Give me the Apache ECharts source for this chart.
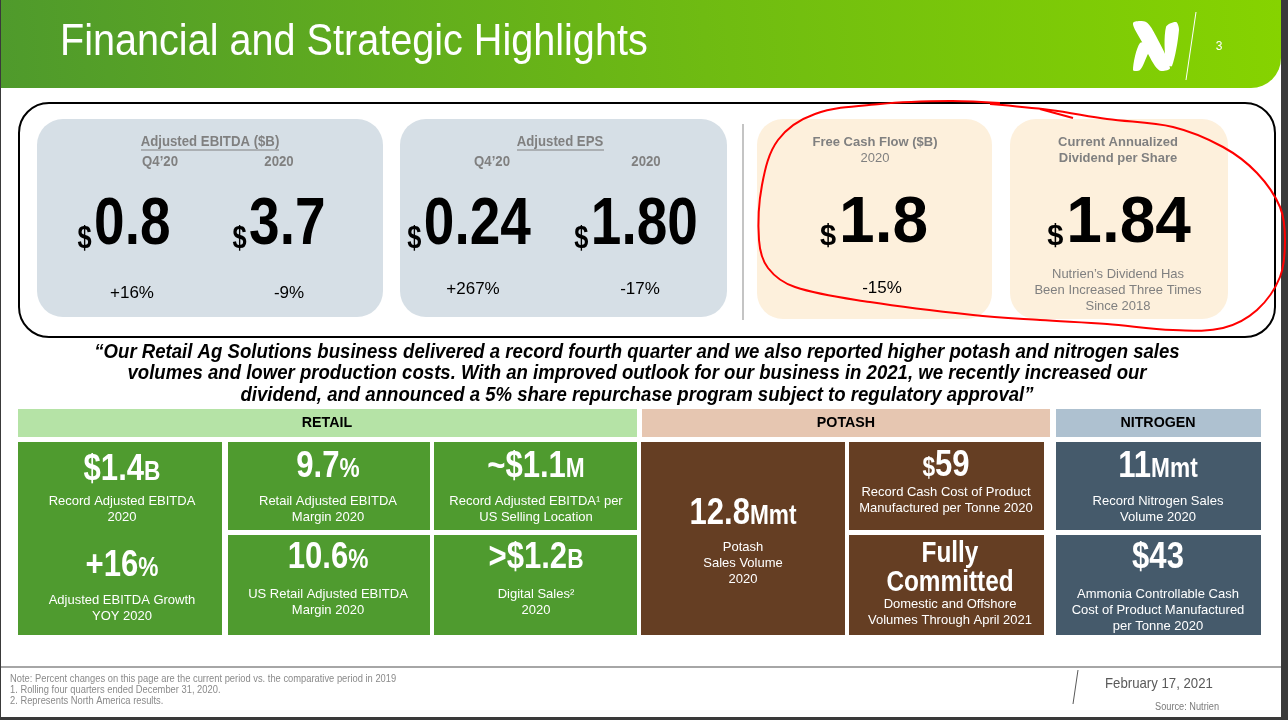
<!DOCTYPE html>
<html>
<head>
<meta charset="utf-8">
<script src="https://cdn.jsdelivr.net/npm/echarts@6/dist/echarts.min.js"></script>
<style>
    html, body { margin: 0; padding: 0; background: #3a3a3a; }
    #chart { width: 1288px; height: 720px; }
</style>
</head>
<body>
<div id="chart"></div>
<script>
// 页面上的数值
var pageTitle = 'Financial and Strategic Highlights';
var pageNumber = '3';
var ebitdaPeriods = ['Q4\u201920', '2020'];
var ebitdaValues = ['0.8', '3.7'];
var ebitdaChanges = ['+16%', '-9%'];
var epsPeriods = ['Q4\u201920', '2020'];
var epsValues = ['0.24', '1.80'];
var epsChanges = ['+267%', '-17%'];
var fcfValue = '1.8';
var fcfChange = '-15%';
var dividendValue = '1.84';
var dividendNote = ['Nutrien\u2019s Dividend Has', 'Been Increased Three Times', 'Since 2018'];
var quoteLines = [
    '\u201cOur Retail Ag Solutions business delivered a record fourth quarter and we also reported higher potash and nitrogen sales',
    'volumes and lower production costs. With an improved outlook for our business in 2021, we recently increased our',
    'dividend, and announced a 5% share repurchase program subject to regulatory approval\u201d'
];
var segmentNames = ['RETAIL', 'POTASH', 'NITROGEN'];
// 各板块的大数字：前缀、数值、单位
var retailPrefix = ['$', '+', '', '~$', '', '>$'];
var retailValues = ['1.4', '16', '9.7', '1.1', '10.6', '1.2'];
var retailUnits = ['B', '%', '%', 'M', '%', 'B'];
var retailLabels = [
    'Record Adjusted EBITDA\n2020',
    'Adjusted EBITDA Growth\nYOY 2020',
    'Retail Adjusted EBITDA\nMargin 2020',
    'Record Adjusted EBITDA\u00b9 per\nUS Selling Location',
    'US Retail Adjusted EBITDA\nMargin 2020',
    'Digital Sales\u00b2\n2020'
];
var potashValues = ['12.8', '59', 'Fully\nCommitted'];
var potashUnits = ['Mmt', '', ''];
var potashLabels = ['Potash\nSales Volume\n2020', 'Record Cash Cost of Product\nManufactured per Tonne 2020', 'Domestic and Offshore\nVolumes Through April 2021'];
var nitrogenValues = ['11', '43'];
var nitrogenUnits = ['Mmt', ''];
var nitrogenLabels = ['Record Nitrogen Sales\nVolume 2020', 'Ammonia Controllable Cash\nCost of Product Manufactured\nper Tonne 2020'];
var footNotes = [
    'Note: Percent changes on this page are the current period vs. the comparative period in 2019',
    '1. Rolling four quarters ended December 31, 2020.',
    '2. Represents North America results.'
];
var footDate = 'February 17, 2021';
var footSource = 'Source: Nutrien';

var SANS = "'Liberation Sans', Arial, sans-serif";
// 没有窄体字，用横向压缩代替
var NARROW_SX = 0.84;

var els = [];

function rect(x, y, w, h, fill, r, stroke) {
    els.push({
        type: 'rect',
        shape: {x: x, y: y, width: w, height: h, r: r || 0},
        style: {fill: fill || 'none', stroke: stroke || null, lineWidth: stroke ? 2 : 0}
    });
}

function text(x, y, str, fontSize, color, opts) {
    opts = opts || {};
    els.push({
        type: 'text',
        x: x,
        y: y,
        scaleX: opts.sx || 1,
        style: {
            text: str,
            fill: color,
            fontSize: fontSize,
            fontFamily: SANS,
            fontWeight: opts.weight || 'normal',
            fontStyle: opts.style || 'normal',
            lineHeight: opts.lineHeight || Math.round(fontSize * 1.22),
            textAlign: opts.align || 'center',
            textVerticalAlign: opts.valign || 'middle'
        }
    });
}

function line(x1, y1, x2, y2, color, w) {
    els.push({
        type: 'line',
        shape: {x1: x1, y1: y1, x2: x2, y2: y2},
        style: {stroke: color, lineWidth: w || 1}
    });
}

function poly(points, fill) {
    els.push({
        type: 'polygon',
        shape: {points: points, smooth: 0.3},
        style: {fill: fill}
    });
}

// 大数字：$ 小号贴底
function bigMoney(x, y, value, size, sx) {
    var str = '{d|$}{n|' + value + '}';
    els.push({
        type: 'text',
        x: x,
        y: y,
        scaleX: sx,
        style: {
            text: str,
            textAlign: 'center',
            textVerticalAlign: 'middle',
            rich: {
                d: {fontSize: Math.round(size * 0.46), fontWeight: 'bold', fontFamily: SANS, fill: '#000', verticalAlign: 'bottom', padding: [0, 3, 5, 0]},
                n: {fontSize: size, fontWeight: 'bold', fontFamily: SANS, fill: '#000'}
            }
        }
    });
}

// 板块磁贴里的大数字
function tileValue(x, y, prefix, value, unit, size, smallPrefix) {
    var str = '';
    if (prefix) {
        str += smallPrefix ? '{s|' + prefix + '}' : '{v|' + prefix + '}';
    }
    str += '{v|' + value + '}';
    if (unit) {
        str += '{u|' + unit + '}';
    }
    els.push({
        type: 'text',
        x: x,
        y: y,
        scaleX: NARROW_SX,
        style: {
            text: str,
            textAlign: 'center',
            textVerticalAlign: 'middle',
            rich: {
                v: {fontSize: size, fontWeight: 'bold', fontFamily: SANS, fill: '#fff'},
                s: {fontSize: Math.round(size * 0.72), fontWeight: 'bold', fontFamily: SANS, fill: '#fff', verticalAlign: 'bottom', padding: [0, 0, 2, 0]},
                u: {fontSize: Math.round(size * 0.72), fontWeight: 'bold', fontFamily: SANS, fill: '#fff', verticalAlign: 'bottom', padding: [0, 0, 2, 0]}
            }
        }
    });
}

// 页面底色
rect(1, 0, 1280, 717, '#ffffff');

// 顶部绿色标题栏
els.push({
    type: 'rect',
    shape: {x: 1, y: 0, width: 1280, height: 88, r: [0, 0, 30, 0]},
    style: {
        fill: new echarts.graphic.LinearGradient(0, 1, 1, 0, [
            {offset: 0, color: '#4f9a2c'},
            {offset: 0.55, color: '#6fbb12'},
            {offset: 1, color: '#86d300'}
        ])
    }
});
text(60, 43, pageTitle, 44, '#ffffff', {align: 'left', sx: 0.9});
// 标志
poly([[1133, 23], [1146, 22], [1156, 36], [1170, 68], [1161, 71], [1155, 66], [1142, 42]], '#ffffff');
poly([[1166, 27], [1176, 22], [1179, 30], [1172, 66], [1166, 63]], '#ffffff');
poly([[1140, 43], [1151, 46], [1147, 56], [1140, 70], [1133, 70]], '#ffffff');
line(1196, 12, 1186, 80, '#ffffff', 1);
text(1219, 47, pageNumber, 12, '#ffffff');

// 上方 KPI 区
rect(19, 103, 1256, 234, null, 30, '#000000');
rect(37, 119, 346, 198, '#d6dfe6', 26);
rect(400, 119, 327, 198, '#d6dfe6', 26);
line(743, 124, 743, 320, '#c4c4c4', 2);
rect(757, 119, 235, 200, '#fdf0dc', 26);
rect(1010, 119, 218, 200, '#fdf0dc', 26);

var grayTxt = '#808080';
text(210, 142, 'Adjusted EBITDA ($B)', 15, grayTxt, {weight: 'bold', sx: 0.88});
line(141, 150, 279, 150, grayTxt, 1);
text(160, 162, ebitdaPeriods[0], 15, grayTxt, {weight: 'bold', sx: 0.88});
text(279, 162, ebitdaPeriods[1], 15, grayTxt, {weight: 'bold', sx: 0.88});
bigMoney(124, 226, ebitdaValues[0], 67, 0.82);
bigMoney(279, 226, ebitdaValues[1], 67, 0.82);
text(132, 293, ebitdaChanges[0], 17, '#000');
text(289, 293, ebitdaChanges[1], 17, '#000');

text(560, 142, 'Adjusted EPS', 15, grayTxt, {weight: 'bold', sx: 0.88});
line(517, 150, 604, 150, grayTxt, 1);
text(492, 162, epsPeriods[0], 15, grayTxt, {weight: 'bold', sx: 0.88});
text(646, 162, epsPeriods[1], 15, grayTxt, {weight: 'bold', sx: 0.88});
bigMoney(469, 226, epsValues[0], 67, 0.82);
bigMoney(636, 226, epsValues[1], 67, 0.82);
text(473, 289, epsChanges[0], 17, '#000');
text(640, 289, epsChanges[1], 17, '#000');

text(875, 142, 'Free Cash Flow ($B)', 13, grayTxt, {weight: 'bold'});
text(875, 158, '2020', 13, grayTxt);
bigMoney(874, 224, fcfValue, 64, 1);
text(882, 288, fcfChange, 17, '#000');

text(1118, 150, 'Current Annualized\nDividend per Share', 13, grayTxt, {weight: 'bold', lineHeight: 16});
bigMoney(1119, 224, dividendValue, 64, 1);
text(1118, 290, dividendNote.join('\n'), 13, grayTxt, {lineHeight: 16});

// 红色手绘圈
els.push({
    type: 'polyline',
    shape: {
        points: [[1000, 103], [950, 101], [880, 104], [815, 114], [778, 140], [762, 185], [759, 240],
            [768, 268], [795, 287], [870, 302], [973, 315], [1040, 320], [1107, 324], [1173, 330],
            [1223, 328], [1257, 310], [1280, 277], [1285, 240], [1280, 207], [1257, 173],
            [1223, 147], [1173, 127], [1107, 119], [1050, 110], [990, 104]],
        smooth: 0.35
    },
    style: {stroke: '#ff0000', lineWidth: 2, fill: null}
});
line(1040, 109, 1073, 118, '#ff0000', 2);

// 引言
quoteLines.forEach(function (q, i) {
    text(637, 352 + i * 21.5, q, 21, '#000', {weight: 'bold', style: 'italic', sx: 0.885});
});

// 板块标题
rect(18, 409, 619, 28, '#b5e3a6');
rect(642, 409, 408, 28, '#e6c6b1');
rect(1056, 409, 205, 28, '#aec1d0');
text(327, 423, segmentNames[0], 15, '#000', {weight: 'bold', sx: 0.95});
text(846, 423, segmentNames[1], 15, '#000', {weight: 'bold', sx: 0.95});
text(1158, 423, segmentNames[2], 15, '#000', {weight: 'bold', sx: 0.95});

// 零售磁贴
var green = '#4f9b2f';
rect(18, 442, 204, 193, green);
rect(228, 442, 202, 88, green);
rect(434, 442, 203, 88, green);
rect(228, 535, 202, 100, green);
rect(434, 535, 203, 100, green);
var retailPos = [[122, 470, 509], [122, 566, 608], [328, 467, 509], [536, 467, 509], [328, 558, 602], [536, 558, 602]];
retailPos.forEach(function (p, i) {
    tileValue(p[0], p[1], retailPrefix[i], retailValues[i], retailUnits[i], 37, false);
    text(p[0], p[2], retailLabels[i], 13, '#fff', {lineHeight: 16});
});

// 钾肥磁贴
var brown = '#653e23';
rect(641, 442, 204, 193, brown);
rect(849, 442, 195, 88, brown);
rect(849, 535, 195, 100, brown);
tileValue(743, 514, '', potashValues[0], potashUnits[0], 37, false);
text(743, 563, potashLabels[0], 13, '#fff', {lineHeight: 16});
tileValue(946, 466, '$', potashValues[1], potashUnits[1], 37, true);
text(946, 500, potashLabels[1], 13, '#fff', {lineHeight: 16});
text(950, 568, potashValues[2], 29, '#fff', {weight: 'bold', lineHeight: 29, sx: NARROW_SX});
text(950, 612, potashLabels[2], 13, '#fff', {lineHeight: 16});

// 氮肥磁贴
var slate = '#455a6b';
rect(1056, 442, 205, 88, slate);
rect(1056, 535, 205, 100, slate);
tileValue(1158, 467, '', nitrogenValues[0], nitrogenUnits[0], 37, false);
text(1158, 509, nitrogenLabels[0], 13, '#fff', {lineHeight: 16});
tileValue(1158, 558, '$', nitrogenValues[1], nitrogenUnits[1], 37, false);
text(1158, 610, nitrogenLabels[1], 13, '#fff', {lineHeight: 16});

// 页脚
line(1, 667, 1281, 667, '#a6a6a6', 2);
footNotes.forEach(function (n, i) {
    text(10, 679 + i * 11, n, 11, '#8a8a8a', {align: 'left', sx: 0.85});
});
line(1078, 670, 1073, 704, '#595959', 1);
text(1105, 684, footDate, 15, '#595959', {align: 'left', sx: 0.88});
text(1219, 707, footSource, 10, '#7a7a7a', {align: 'right', sx: 0.92});

var mychart = echarts.init(document.getElementById('chart'));
mychart.setOption({
    backgroundColor: '#3a3a3a',
    graphic: {elements: els}
});
</script>
</body>
</html>
